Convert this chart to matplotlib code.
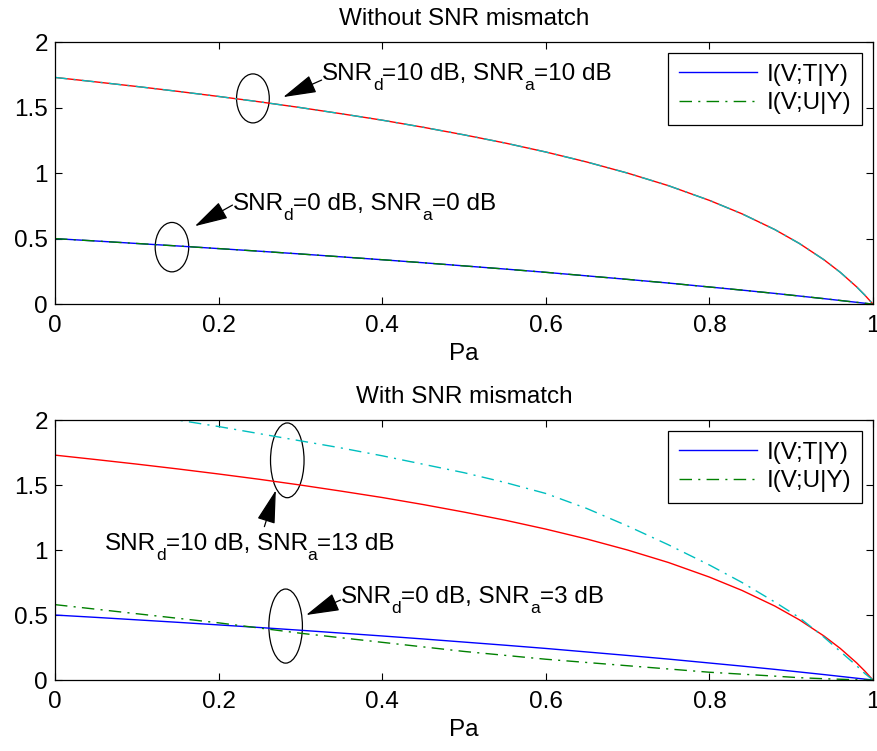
import numpy as np
import matplotlib
matplotlib.use('Agg')
import matplotlib.pyplot as plt
from matplotlib.patches import Ellipse
from matplotlib.transforms import offset_copy

plt.rcParams['font.family'] = ['Liberation Sans', 'DejaVu Sans']
plt.rcParams['lines.scale_dashes'] = False

# Pa grid and curve values
pa = [0, 0.05, 0.1, 0.15, 0.2, 0.25, 0.3, 0.35, 0.4, 0.45, 0.5, 0.55, 0.6,
      0.65, 0.7, 0.75, 0.8, 0.84, 0.88, 0.91, 0.94, 0.96, 0.98, 0.99, 1.0]

# SNR_d = 10 dB, I(V;T|Y) (red, same in both panels)
t_hi = [1.73, 1.696, 1.661, 1.624, 1.585, 1.544, 1.50, 1.453, 1.404, 1.35, 1.292,
        1.23, 1.161, 1.085, 1.0, 0.904, 0.792, 0.689, 0.569, 0.463, 0.339, 0.243,
        0.132, 0.069, 0.0]
# SNR_d = 0 dB, I(V;T|Y) (blue, same in both panels)
t_lo = [0.50, 0.482, 0.463, 0.444, 0.424, 0.404, 0.383, 0.361, 0.339, 0.316, 0.292,
        0.268, 0.243, 0.216, 0.189, 0.161, 0.131, 0.107, 0.082, 0.062, 0.042, 0.028,
        0.014, 0.007, 0.0]

# top panel: I(V;U|Y) sits on top of I(V;T|Y)
u_hi_top = list(t_hi)
u_lo_top = list(t_lo)

# bottom panel: SNR_a = 13 dB (cyan) and SNR_a = 3 dB (green)
u_hi_bot = [2.14, 2.10, 2.05, 2.00, 1.95, 1.895, 1.84, 1.785, 1.725, 1.66, 1.595,
            1.52, 1.435, 1.32, 1.185, 1.04, 0.885, 0.75, 0.60, 0.48, 0.33, 0.22,
            0.11, 0.05, 0.0]
u_lo_bot = [0.58, 0.545, 0.51, 0.475, 0.44, 0.40, 0.36, 0.325, 0.29, 0.255, 0.22,
            0.19, 0.16, 0.135, 0.11, 0.085, 0.06, 0.045, 0.03, 0.018, 0.01, 0.006,
            0.002, 0.001, 0.0]

legend_labels = ['I(V;T|Y)', 'I(V;U|Y)']
xticks = [0, 0.2, 0.4, 0.6, 0.8, 1]
xticklabels = ['0', '0.2', '0.4', '0.6', '0.8', '1']
yticks = [0, 0.5, 1, 1.5, 2]
yticklabels = ['0', '0.5', '1', '1.5', '2']

FS = 17.5
dashdot = (0, (9, 4.5, 1.5, 4.5))
cyan = (0, 0.75, 0.75)
green = (0, 0.5, 0)

fig = plt.figure(figsize=(8.78, 7.51), dpi=100)
ax1 = fig.add_axes([0.0626, 0.595, 0.9317, 0.349])
ax2 = fig.add_axes([0.0626, 0.0945, 0.9317, 0.3462])
renderer = fig.canvas.get_renderer()


def setup(ax, title):
    ax.set_xlim(0, 1)
    ax.set_ylim(0, 2)
    ax.set_xticks(xticks)
    ax.set_xticklabels(xticklabels)
    ax.set_yticks(yticks)
    ax.set_yticklabels(yticklabels)
    ax.tick_params(direction='in', length=5, width=0.8, top=True, right=True,
                   labelsize=FS)
    ax.tick_params(axis='x', pad=8)
    ax.tick_params(axis='y', pad=5)
    for s in ax.spines.values():
        s.set_linewidth(0.9)
    ax.set_title(title, fontsize=FS, pad=12)
    ax.set_xlabel('Pa', fontsize=FS, labelpad=4)


def add_legend(ax, handles):
    leg = ax.legend(handles, legend_labels, loc='upper right', fontsize=FS,
                    fancybox=False, edgecolor='k', framealpha=1, handlelength=3.2,
                    handletextpad=0.4, borderaxespad=0.45, labelspacing=0.25,
                    borderpad=0.45)
    leg.get_frame().set_linewidth(0.9)


def arrow(ax, head, tail):
    ax.annotate('', xy=head, xytext=tail,
                arrowprops=dict(arrowstyle='-|>,head_length=1.2,head_width=0.33',
                                color='k', lw=0.9, shrinkA=0, shrinkB=0),
                fontsize=FS)


def snr_label(ax, x, y, d, a):
    # text with lowered subscripts, laid out piece by piece (x, y = baseline start)
    parts = [('SNR', False), ('d', True), ('=%s dB, SNR' % d, False), ('a', True),
             ('=%s dB' % a, False)]
    dx = 0.0
    for s, sub in parts:
        tr = offset_copy(ax.transData, fig=fig, x=dx, y=-0.42 * FS if sub else 0,
                         units='points')
        t = ax.text(x, y, s, fontsize=0.72 * FS if sub else FS, transform=tr,
                    ha='left', va='baseline')
        dx += t.get_window_extent(renderer).width * 72.0 / fig.dpi


# ---- top: without mismatch
l1, = ax1.plot(pa, t_lo, color='b', lw=1)
ax1.plot(pa, t_hi, color='r', lw=1)
ax1.plot(pa, u_hi_top, color=cyan, lw=1, linestyle=dashdot)
l2, = ax1.plot(pa, u_lo_top, color=green, lw=1, linestyle=dashdot)
setup(ax1, 'Without SNR mismatch')
add_legend(ax1, [l1, l2])

ax1.add_patch(Ellipse((0.242, 1.57), 0.040, 0.374, fill=False, ec='k', lw=0.9))
ax1.add_patch(Ellipse((0.143, 0.435), 0.041, 0.377, fill=False, ec='k', lw=0.9))
arrow(ax1, (0.279, 1.58), (0.326, 1.71))
arrow(ax1, (0.171, 0.595), (0.217, 0.756))
snr_label(ax1, 0.326, 1.71, '10', '10')
snr_label(ax1, 0.217, 0.718, '0', '0')

# ---- bottom: with mismatch
m1, = ax2.plot(pa, t_lo, color='b', lw=1)
ax2.plot(pa, t_hi, color='r', lw=1)
ax2.plot(pa, u_hi_bot, color=cyan, lw=1, linestyle=dashdot)
m2, = ax2.plot(pa, u_lo_bot, color=green, lw=1, linestyle=dashdot)
setup(ax2, 'With SNR mismatch')
add_legend(ax2, [m1, m2])

ax2.add_patch(Ellipse((0.284, 1.69), 0.041, 0.575, fill=False, ec='k', lw=0.9))
ax2.add_patch(Ellipse((0.282, 0.415), 0.041, 0.57, fill=False, ec='k', lw=0.9))
arrow(ax2, (0.270, 1.46), (0.256, 1.18))
arrow(ax2, (0.307, 0.50), (0.349, 0.615))
snr_label(ax2, 0.061, 1.0, '10', '13')
snr_label(ax2, 0.349, 0.595, '0', '3')

fig.savefig('out.png', dpi=100)
